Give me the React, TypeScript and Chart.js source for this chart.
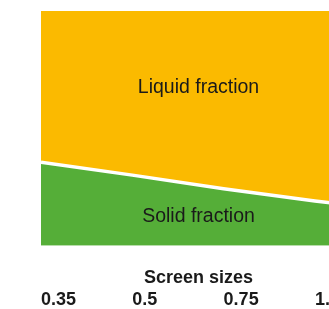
import React, { useEffect, useRef } from 'react';
import { Chart, registerables } from 'chart.js';

Chart.register(...registerables);

// ---- data ----
const screenSizes = ['0.35', '0.5', '0.75', '1.0', '1.5'];
const solidFraction = [35.6, 30.1, 24.3, 19.1, 14.5];
const liquidTop = [100, 100, 100, 100, 100];
const regionLabels = ['Liquid fraction', 'Solid fraction'];
const regionLabelValues = [67.5, 12.5];
const axisTitle = 'Screen sizes';
const visibleSpan = 3.45;

const FONT = '"Liberation Sans", Arial, Helvetica, sans-serif';
const TEXT = '#1a1a1a';
const ORANGE = '#FBBA00';
const GREEN = '#55AE38';

const regionLabelPlugin = {
  id: 'regionLabels',
  afterDatasetsDraw(chart: any) {
    const { ctx, chartArea, scales } = chart;
    ctx.save();
    ctx.font = `19.5px ${FONT}`;
    ctx.fillStyle = TEXT;
    ctx.textAlign = 'center';
    ctx.textBaseline = 'middle';
    const cx = (chartArea.left + chartArea.right) / 2;
    regionLabels.forEach((t, i) => {
      ctx.fillText(t, cx, scales.y.getPixelForValue(regionLabelValues[i]));
    });
    ctx.restore();
  },
};

export default function App() {
  const ref = useRef<HTMLCanvasElement>(null);
  useEffect(() => {
    const chart = new Chart(ref.current as HTMLCanvasElement, {
      type: 'line',
      data: {
        datasets: [
          {
            label: 'Solid fraction',
            data: solidFraction.map((v, i) => ({ x: i, y: v })),
            fill: 'origin',
            backgroundColor: GREEN,
            borderColor: '#ffffff',
            borderWidth: 3.5,
            pointRadius: 0,
            tension: 0,
          },
          {
            label: 'Liquid fraction',
            data: liquidTop.map((v, i) => ({ x: i, y: v })),
            fill: '-1',
            backgroundColor: ORANGE,
            borderColor: 'rgba(0,0,0,0)',
            borderWidth: 0,
            pointRadius: 0,
          },
        ],
      },
      options: {
        animation: false,
        responsive: false,
        devicePixelRatio: 1,
        layout: { padding: { top: 11, left: 41, right: 4, bottom: 2 } },
        plugins: { legend: { display: false }, tooltip: { enabled: false } },
        scales: {
          x: {
            type: 'linear',
            min: 0,
            max: visibleSpan,
            weight: 0,
            grid: { display: false, drawTicks: false },
            border: { display: false },
            ticks: { display: false },
            title: {
              display: true,
              text: axisTitle,
              color: TEXT,
              font: { family: FONT, size: 18, weight: 'bold' },
              padding: { top: 21, bottom: 0 },
            },
          },
          xTicks: {
            type: 'linear',
            axis: 'x',
            position: 'bottom',
            min: 0,
            max: visibleSpan,
            weight: 1,
            grid: { display: false, drawTicks: false },
            border: { display: false },
            afterBuildTicks: (axis: any) => {
              axis.ticks = screenSizes
                .map((_, i) => ({ value: i }))
                .filter((t) => t.value <= axis.max);
            },
            ticks: {
              align: 'start',
              padding: 1,
              color: TEXT,
              font: { family: FONT, size: 18, weight: 'bold' },
              callback: (v: any) => screenSizes[v] ?? '',
            },
          },
          y: { display: false, min: 0, max: 100 },
        },
      } as any,
      plugins: [regionLabelPlugin],
    });
    return () => chart.destroy();
  }, []);
  return (
    <div
      style={{
        position: 'fixed',
        left: 0,
        top: 0,
        width: 329,
        height: 309,
        overflow: 'hidden',
        background: '#fff',
      }}
    >
      <canvas ref={ref} width={360} height={314} style={{ display: 'block', width: 360, height: 314 }} />
    </div>
  );
}
